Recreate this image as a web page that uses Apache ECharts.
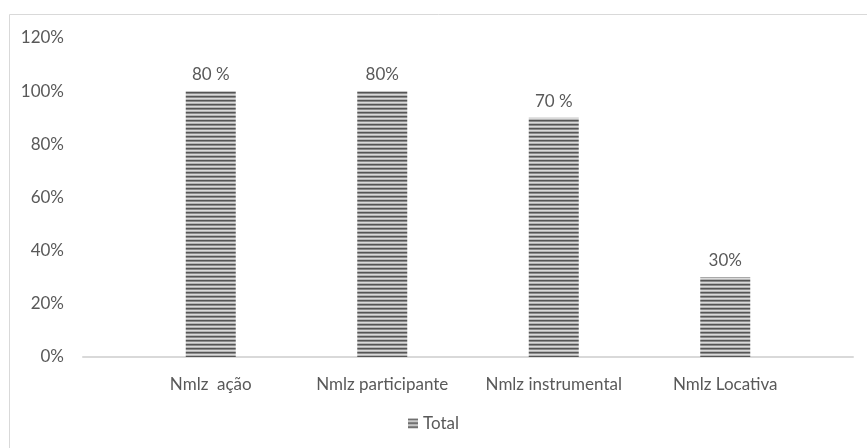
<!DOCTYPE html>
<html>
<head>
<meta charset="utf-8">
<script src="https://cdn.jsdelivr.net/npm/echarts@6/dist/echarts.min.js"></script>
<style>
  html, body { margin: 0; padding: 0; background: #ffffff; }
  #chart { width: 867px; height: 448px; }
</style>
</head>
<body>
<div id="chart"></div>
<script>
// Categories, bar heights (percent) and the label text printed above each bar
const categories = ['Nmlz  ação', 'Nmlz participante', 'Nmlz instrumental', 'Nmlz Locativa'];
const totals = [100, 100, 90, 30];
const barLabels = ['80 %', '80%', '70 %', '30%'];
const seriesName = 'Total';

// Horizontal stripe fill for the bars
function stripePattern() {
  const c = document.createElement('canvas');
  c.width = 4; c.height = 4;
  const ctx = c.getContext('2d');
  const rows = ['#555555', '#8c8c8c', '#dadada', '#b4b4b4'];
  rows.forEach((col, i) => { ctx.fillStyle = col; ctx.fillRect(0, i, 4, 1); });
  return c;
}
const stripes = { image: stripePattern(), repeat: 'repeat' };

const font = 'Lato, "Open Sans", sans-serif';
const textColor = '#595959';
const fontSize = 17;

const chart = echarts.init(document.getElementById('chart'), null, { renderer: 'canvas' });
chart.setOption({
  animation: false,
  textStyle: { fontFamily: font },
  graphic: [{
    type: 'rect',
    shape: { x: 9.5, y: 14.5, width: 880, height: 460 },
    style: { fill: 'none', stroke: '#d9d9d9', lineWidth: 1 },
    silent: true, z: -1
  }],
  legend: {
    bottom: 11,
    left: 'center',
    itemWidth: 10,
    itemHeight: 10,
    itemGap: 3,
    textStyle: { color: textColor, fontSize: fontSize, fontFamily: font },
    data: [{ name: seriesName, icon: 'rect' }]
  },
  grid: [
    { left: 125, right: 56, top: 38, bottom: 91 },
    { left: 83, right: 14, top: 38, bottom: 91 }
  ],
  xAxis: [{
    type: 'category',
    gridIndex: 0,
    data: categories,
    axisLine: { show: false },
    axisTick: { show: false },
    axisLabel: { color: textColor, fontSize: fontSize, fontFamily: font, margin: 19, interval: 0 }
  }, {
    type: 'category',
    gridIndex: 1,
    data: [''],
    axisLine: { show: true, lineStyle: { color: '#d9d9d9', width: 2 } },
    axisTick: { show: false },
    axisLabel: { show: false }
  }],
  yAxis: [{
    type: 'value',
    gridIndex: 0,
    min: 0, max: 120, interval: 20,
    axisLine: { show: false },
    axisTick: { show: false },
    splitLine: { show: false },
    axisLabel: { show: false }
  }, {
    type: 'value',
    gridIndex: 1,
    min: 0, max: 120, interval: 20,
    axisLine: { show: false },
    axisTick: { show: false },
    splitLine: { show: false },
    axisLabel: { color: textColor, fontSize: fontSize, fontFamily: font, margin: 19, formatter: '{value}%' }
  }],
  series: [{
    name: seriesName,
    type: 'bar',
    xAxisIndex: 0,
    yAxisIndex: 0,
    data: totals,
    barWidth: 50,
    itemStyle: { color: stripes },
    label: {
      show: true,
      position: 'top',
      distance: 8,
      color: textColor,
      fontSize: fontSize,
      fontFamily: font,
      formatter: p => barLabels[p.dataIndex]
    }
  }]
});
</script>
</body>
</html>
